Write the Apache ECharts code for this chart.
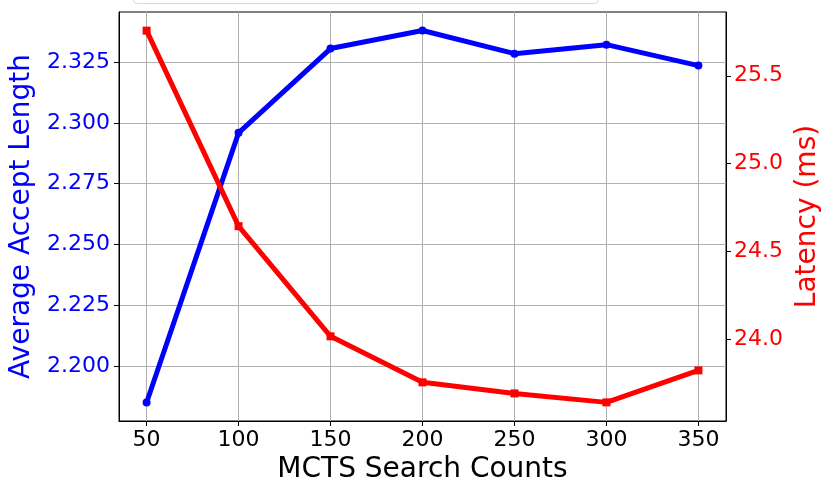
<!DOCTYPE html>
<html>
<head>
<meta charset="utf-8">
<script src="https://cdn.jsdelivr.net/npm/echarts@6/dist/echarts.min.js"></script>
<style>
html,body{margin:0;padding:0;background:#fff;}
#chart{width:830px;height:498px;}
</style>
</head>
<body>
<div id="chart"></div>
<script>
const searchCounts = [50, 100, 150, 200, 250, 300, 350];
const acceptLength = [2.1852, 2.2959, 2.3305, 2.3379, 2.3284, 2.3321, 2.3235];
const latencyMs = [25.757, 24.644, 24.017, 23.755, 23.692, 23.641, 23.823];
const xTicks = [50, 100, 150, 200, 250, 300, 350];
const leftTicks = [2.200, 2.225, 2.250, 2.275, 2.300, 2.325];
const rightTicks = [24.0, 24.5, 25.0, 25.5];

const FONT = 'DejaVu Sans';
const chart = echarts.init(document.getElementById('chart'), null, {renderer: 'canvas'});
chart.setOption({
  animation: false,
  backgroundColor: '#ffffff',
  grid: {left: 119, right: 104, top: 12, bottom: 77, show: true,
    borderColor: '#000', borderWidth: 1, backgroundColor: 'transparent'},
  graphic: [{
    type: 'rect', left: 133, top: -20,
    shape: {width: 465, height: 23, r: 4},
    style: {fill: '#ffffff', stroke: '#d9d9d9', lineWidth: 1}, z: 0
  }],
  xAxis: {
    type: 'value', min: 35, max: 365,
    name: 'MCTS Search Counts', nameLocation: 'middle', nameGap: 35,
    nameTextStyle: {fontFamily: FONT, fontSize: 28, color: '#000'},
    axisLine: {show: true, onZero: false, lineStyle: {color: '#000', width: 1}},
    axisTick: {show: true, length: 5, customValues: xTicks, lineStyle: {color: '#000'}},
    axisLabel: {customValues: xTicks, fontFamily: FONT, fontSize: 22, color: '#000', margin: 8},
    splitLine: {show: true, lineStyle: {color: '#b0b0b0', width: 1}}
  },
  yAxis: [{
    type: 'value', min: 2.1776, max: 2.3455, position: 'left',
    name: 'Average Accept Length', nameLocation: 'middle', nameGap: 82,
    nameTextStyle: {fontFamily: FONT, fontSize: 28, color: '#0000ff'},
    axisLine: {show: true, onZero: false, lineStyle: {color: '#000', width: 1}},
    axisTick: {show: true, length: 5, customValues: leftTicks, lineStyle: {color: '#000'}},
    axisLabel: {customValues: leftTicks, fontFamily: FONT, fontSize: 22, color: '#0000ff', margin: 9,
      formatter: v => v.toFixed(3)},
    splitLine: {show: true, lineStyle: {color: '#b0b0b0', width: 1}}
  }, {
    type: 'value', min: 23.535, max: 25.863, position: 'right',
    name: 'Latency (ms)', nameLocation: 'middle', nameGap: 60,
    nameTextStyle: {fontFamily: FONT, fontSize: 28, color: '#ff0000'},
    axisLine: {show: true, onZero: false, lineStyle: {color: '#000', width: 1}},
    axisTick: {show: true, length: 5, customValues: rightTicks, lineStyle: {color: '#000'}},
    axisLabel: {customValues: rightTicks, fontFamily: FONT, fontSize: 22, color: '#ff0000', margin: 8,
      formatter: v => v.toFixed(1)},
    splitLine: {show: false}
  }],
  series: [{
    type: 'line', yAxisIndex: 0,
    data: searchCounts.map((x, i) => [x, acceptLength[i]]),
    lineStyle: {color: '#0000ff', width: 5},
    itemStyle: {color: '#0000ff'},
    symbol: 'circle', symbolSize: 8, z: 2
  }, {
    type: 'line', yAxisIndex: 1,
    data: searchCounts.map((x, i) => [x, latencyMs[i]]),
    lineStyle: {color: '#ff0000', width: 5},
    itemStyle: {color: '#ff0000'},
    symbol: 'rect', symbolSize: 8, z: 3
  }]
});
</script>
</body>
</html>
